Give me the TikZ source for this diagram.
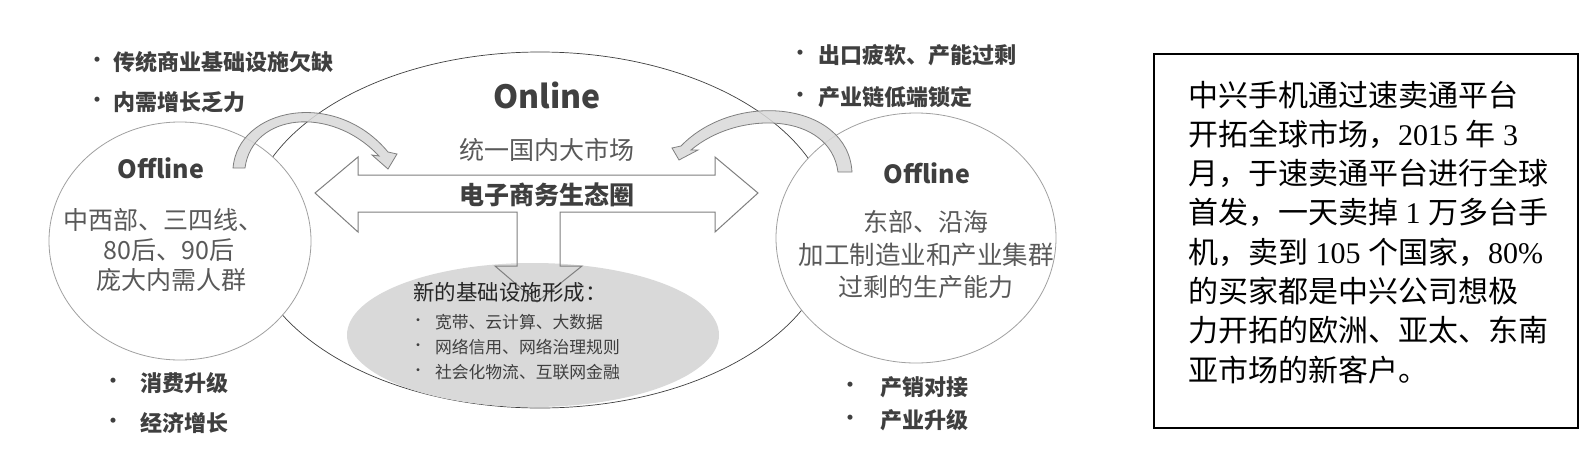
\documentclass[tikz,border=0pt]{standalone}
\usepackage{fontspec}
\setmainfont{Liberation Serif}
\newfontfamily\cjk{Noto Sans CJK SC}
\usetikzlibrary{shapes.geometric}
\definecolor{txtd}{HTML}{3F3F3F}
\definecolor{txtm}{HTML}{595959}
\definecolor{lineg}{HTML}{7F7F7F}
\definecolor{lined}{HTML}{404040}
\definecolor{linel}{HTML}{A0A0A0}
\definecolor{fillg}{HTML}{D9D9D9}
\newcommand{\fsz}[1]{\fontsize{#1pt}{#1pt}\selectfont}
\begin{document}
\begin{tikzpicture}[x=1pt,y=-1pt,
  txt/.style={inner sep=0pt, outer sep=0pt},
  bhead/.style={txt, anchor=west, text=txtd, font=\cjk\bfseries\fsz{22}},
  bdot/.style={txt, text=txtd, font=\cjk\bfseries\fsz{18}},
  body/.style={txt, text=txtm, font=\cjk\fsz{25}},
  ibul/.style={txt, anchor=west, text=txtd, font=\cjk\fsz{16.8}},
  boxline/.style={txt, anchor=base west, font=\fsz{30}},
  curvarrow/.style={fill=fillg, fill opacity=0.85, draw=lineg, line width=0.8pt},
  oval/.style={ellipse, inner sep=0pt, outer sep=0pt}]
\useasboundingbox (0,0) rectangle (1593,469);
\fill[white] (0,0) rectangle (1593,469);

% big online ellipse
\node[oval, draw=lined, line width=0.7pt, minimum width=586pt, minimum height=356pt] (online) at (540,230) {};
% grey infrastructure ellipse
\node[oval, fill=fillg, minimum width=372pt, minimum height=144pt] (infra) at (533,335) {};

% double arrow with downward branch
\draw[lineg, line width=1pt, line join=miter]
  (315,193) -- (358,157) -- (358,175) -- (715,175) -- (715,157) -- (758,193)
  -- (715,232) -- (715,212) -- (560,212) -- (560,266) -- (582,266) -- (537,302)
  -- (495,266) -- (517,266) -- (517,212) -- (358,212) -- (358,232) -- cycle;

% offline circles
\node[oval, draw=linel, fill=white, line width=0.8pt, minimum width=262pt, minimum height=238pt] (leftc) at (180,241) {};
\node[oval, draw=linel, fill=white, line width=0.8pt, minimum width=280pt, minimum height=250pt] (rightc) at (916,238) {};

% curved arrows
\draw[curvarrow] (233,168) .. controls (238,108) and (335,88) .. (388,152)
  -- (397,154) -- (388,169) -- (372,155) -- (379,156)
  .. controls (330,104) and (252,114) .. (245,168) -- cycle;
\draw[curvarrow] (852,172) .. controls (848,102) and (735,90) .. (681,146)
  -- (672,148) -- (679,160) -- (698,150) -- (691,150)
  .. controls (738,110) and (830,112) .. (838,172) -- cycle;

% top-left bullets
\node[bdot] (bl1) at (97,62) {•};
\node[bhead] (tl1) at (113,62) {传统商业基础设施欠缺};
\node[bdot] (bl2) at (97,102) {•};
\node[bhead] (tl2) at (113,102) {内需增长乏力};

% left offline text
\node[txt, text=txtd, font=\cjk\bfseries\fsz{25}] (offl) at (161,168) {Offline};
\node[body] (l1) at (163,220) {中西部、三四线、};
\node[body] (l2) at (169,250) {80后、90后};
\node[body] (l3) at (171,280) {庞大内需人群};

% bottom-left bullets
\node[bdot] (bb1) at (113,383) {•};
\node[bhead] (tb1) at (140,383) {消费升级};
\node[bdot] (bb2) at (113,423) {•};
\node[bhead] (tb2) at (140,423) {经济增长};

% online text
\node[txt, text=lined, font=\cjk\bfseries\fsz{32}] (onl) at (547,95) {Online};
\node[body] (m1) at (547,150) {统一国内大市场};
\node[txt, text=txtd, font=\cjk\bfseries\fsz{25}] (m2) at (547,195) {电子商务生态圈};

% infrastructure text
\node[txt, anchor=west, text=black!85, font=\cjk\fsz{21.5}] (inf0) at (413,292) {新的基础设施形成：};
\node[bdot, font=\cjk\fsz{14}] (ib1) at (418,322) {•};
\node[ibul] (i1) at (435,322) {宽带、云计算、大数据};
\node[bdot, font=\cjk\fsz{14}] (ib2) at (418,347) {•};
\node[ibul] (i2) at (435,347) {网络信用、网络治理规则};
\node[bdot, font=\cjk\fsz{14}] (ib3) at (418,372) {•};
\node[ibul] (i3) at (435,372) {社会化物流、互联网金融};

% top-right bullets
\node[bdot] (br1) at (800,55) {•};
\node[bhead] (tr1) at (818,55) {出口疲软、产能过剩};
\node[bdot] (br2) at (800,97) {•};
\node[bhead] (tr2) at (818,97) {产业链低端锁定};

% right offline text
\node[txt, text=txtd, font=\cjk\bfseries\fsz{25}] (offr) at (927,173) {Offline};
\node[body] (r1) at (926,222) {东部、沿海};
\node[body, font=\cjk\fsz{25.5}] (r2) at (926,255) {加工制造业和产业集群};
\node[body] (r3) at (926,287) {过剩的生产能力};

% bottom-right bullets
\node[bdot] (bbr1) at (850,387) {•};
\node[bhead] (tbr1) at (880,387) {产销对接};
\node[bdot] (bbr2) at (850,420) {•};
\node[bhead] (tbr2) at (880,420) {产业升级};

% right text box
\node[draw=black, line width=2pt, inner sep=0pt, minimum width=424pt, minimum height=374pt, anchor=north west] (box) at (1153,53) {};
\node[boxline] (x1) at (1188,106) {\cjk 中兴手机通过速卖通平台};
\node[boxline] (x2) at (1188,145.3) {{\cjk 开拓全球市场，}2015 {\cjk 年} 3};
\node[boxline] (x3) at (1188,184.6) {\cjk 月，于速卖通平台进行全球};
\node[boxline] (x4) at (1188,223.9) {{\cjk 首发，一天卖掉} 1 {\cjk 万多台手}};
\node[boxline] (x5) at (1188,263.2) {{\cjk 机，卖到} 105 {\cjk 个国家，}80\%};
\node[boxline] (x6) at (1188,302.5) {\cjk 的买家都是中兴公司想极};
\node[boxline] (x7) at (1188,341.8) {\cjk 力开拓的欧洲、亚太、东南};
\node[boxline] (x8) at (1188,381.1) {\cjk 亚市场的新客户。};
\end{tikzpicture}
\end{document}
